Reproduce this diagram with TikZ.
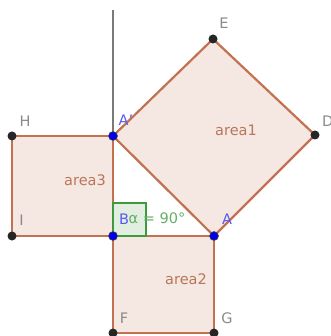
\documentclass[tikz,border=0pt]{standalone}
\usepackage{fontspec}
\setmainfont{DejaVu Sans}
\definecolor{edge}{HTML}{C27250}
\definecolor{sqfill}{HTML}{F5E7E2}
\definecolor{arealbl}{HTML}{B9765A}
\definecolor{ptgray}{HTML}{8A8A8A}
\definecolor{ptblue}{HTML}{5A5AF0}
\definecolor{anggreen}{HTML}{3E9A3E}
\definecolor{angfill}{HTML}{E2EFE0}
\definecolor{axisgray}{HTML}{7A7A7A}
\begin{document}
\begin{tikzpicture}[x=1pt,y=-1pt,
  sq/.style={draw=edge,fill=sqfill,line width=2.2pt,line join=round},
  lbl/.style={font=\fontsize{14.5}{16}\selectfont,inner sep=0pt},
  albl/.style={lbl,text=arealbl},
  glbl/.style={lbl,text=ptgray},
  blbl/.style={lbl,text=ptblue},
  bdot/.style={circle,fill=black!85,inner sep=0pt,minimum size=9pt},
  bludot/.style={circle,fill=blue!90!black,draw=black!70,line width=0.6pt,inner sep=0pt,minimum size=9pt}]
\useasboundingbox (0,0) rectangle (330,336);
\coordinate (Ap) at (113,136);
\coordinate (B) at (113,236);
\coordinate (A) at (214,236);
\coordinate (E) at (213,39);
\coordinate (D) at (315,135);
\coordinate (H) at (12,136);
\coordinate (I) at (12,236);
\coordinate (F) at (113,333);
\coordinate (G) at (214,333);
\coordinate (top) at (113,10);
% squares
\draw[sq] (Ap) -- (E) -- (D) -- (A) -- cycle;
\draw[sq] (B) -- (A) -- (G) -- (F) -- cycle;
\draw[sq] (H) -- (Ap) -- (B) -- (I) -- cycle;
% vertical line
\draw[axisgray,line width=2.8pt] (top) -- (Ap);
% angle marker
\draw[anggreen,fill=angfill,line width=1.3pt] (B) rectangle (146,203);
% area labels
\node[albl] (a1) at (236,130) {area1};
\node[albl] (a2) at (186,279) {area2};
\node[albl] (a3) at (85,180) {area3};
% point labels
\node[glbl] (lE) at (224,23) {E};
\node[glbl,anchor=west] (lD) at (322,121) {D};
\node[glbl] (lH) at (25,121) {H};
\node[glbl] (lI) at (21.5,220) {I};
\node[glbl] (lF) at (124,318) {F};
\node[glbl] (lG) at (227,318) {G};
\node[lbl,text=anggreen!80] (ang) at (157,218) {α = 90°};
\node[blbl] (lB) at (124,219) {B};
\node[blbl] (lAp) at (126,120) {A'};
\node[blbl] (lA) at (227,219) {A};
% points
\node[bdot] (pE) at (E) {};
\node[bdot] (pD) at (D) {};
\node[bdot] (pH) at (H) {};
\node[bdot] (pI) at (I) {};
\node[bdot] (pF) at (F) {};
\node[bdot] (pG) at (G) {};
\node[bludot] (pAp) at (Ap) {};
\node[bludot] (pB) at (B) {};
\node[bludot] (pA) at (A) {};
\end{tikzpicture}
\end{document}
